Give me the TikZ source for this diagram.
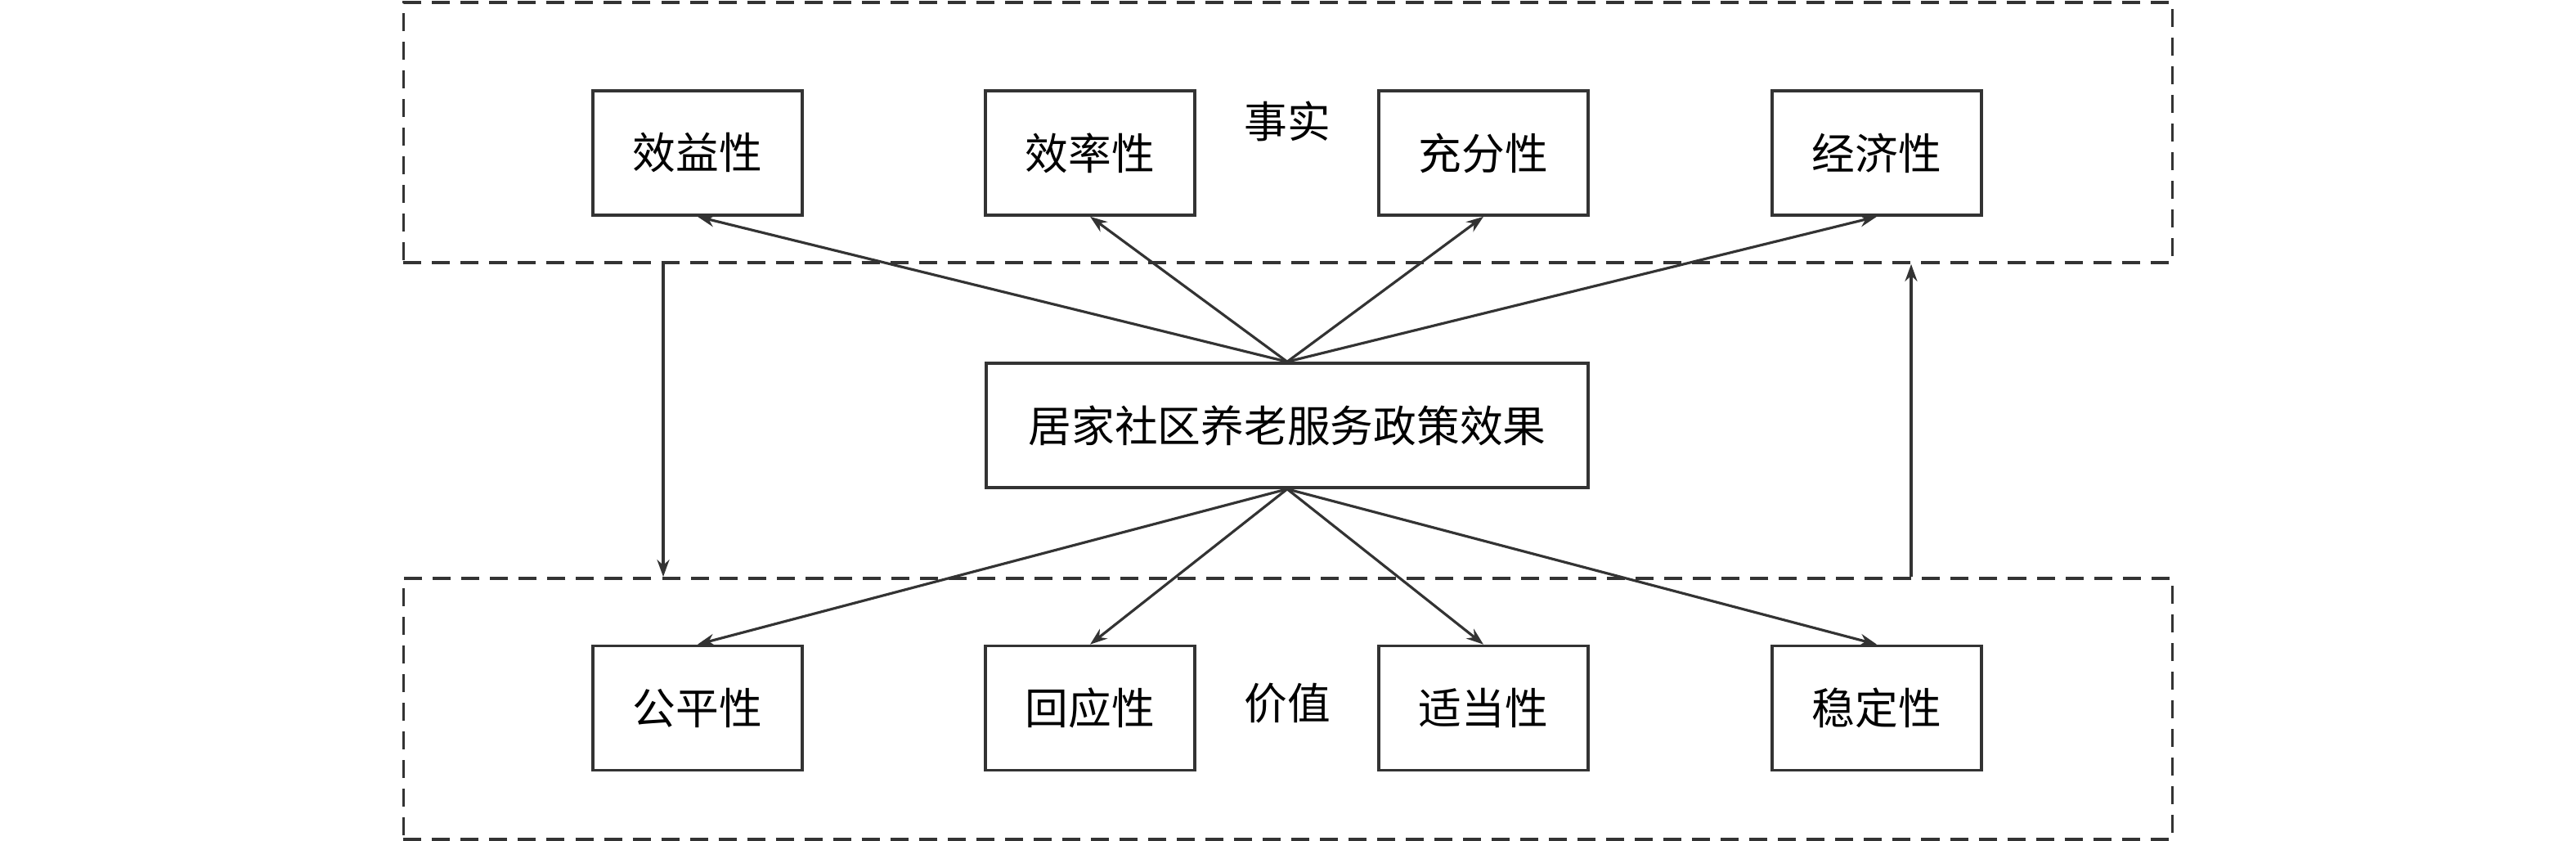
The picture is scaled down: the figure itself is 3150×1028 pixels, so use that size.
\documentclass[tikz,border=0pt]{standalone}
\usepackage{fontspec}
\setmainfont{Noto Sans CJK SC}
\usetikzlibrary{arrows.meta}
\definecolor{ln}{HTML}{333333}
\begin{document}
\begin{tikzpicture}[x=0.01cm,y=-0.01cm,
 box/.style={draw=ln,line width=1pt,minimum width=2.56cm,minimum height=1.52cm,inner sep=0pt,font=\fontsize{15}{18}\selectfont,text=black},
 grp/.style={draw=ln,line width=1pt,dash pattern=on 0.22cm off 0.13cm,inner sep=0pt},
 arr/.style={draw=ln,line width=0.9pt,-{Stealth[length=0.21cm,width=0.15cm]}},
 lbl/.style={font=\fontsize{15}{18}\selectfont,text=black,inner sep=0pt}]
\useasboundingbox (0,0) rectangle (3150,1028);
% groups
\node[grp,minimum width=21.62cm,minimum height=3.18cm] (top) at (1575,162) {};
\node[grp,minimum width=21.62cm,minimum height=3.19cm] (bot) at (1575,866.5) {};
\node[lbl] (fact) at (1574,148) {事实};
\node[lbl] (value) at (1574,860) {价值};
% top boxes
\node[box] (t1) at (853,187) {效益性};
\node[box] (t2) at (1333,187) {效率性};
\node[box] (t3) at (1814,187) {充分性};
\node[box] (t4) at (2295,187) {经济性};
% bottom boxes
\node[box] (b1) at (853,865.5) {公平性};
\node[box] (b2) at (1333,865.5) {回应性};
\node[box] (b3) at (1814,865.5) {适当性};
\node[box] (b4) at (2295,865.5) {稳定性};
% center
\node[box,minimum width=7.36cm] (c) at (1574,520) {居家社区养老服务政策效果};
% arrows
\foreach \n in {t1,t2,t3,t4} \draw[arr] (c.north) -- (\n.south);
\foreach \n in {b1,b2,b3,b4} \draw[arr] (c.south) -- (\n.north);
\coordinate (la) at (811,0);
\coordinate (ra) at (2337,0);
\draw[arr] (top.south -| la) -- (bot.north -| la);
\draw[arr] (bot.north -| ra) -- (top.south -| ra);
\end{tikzpicture}
\end{document}
